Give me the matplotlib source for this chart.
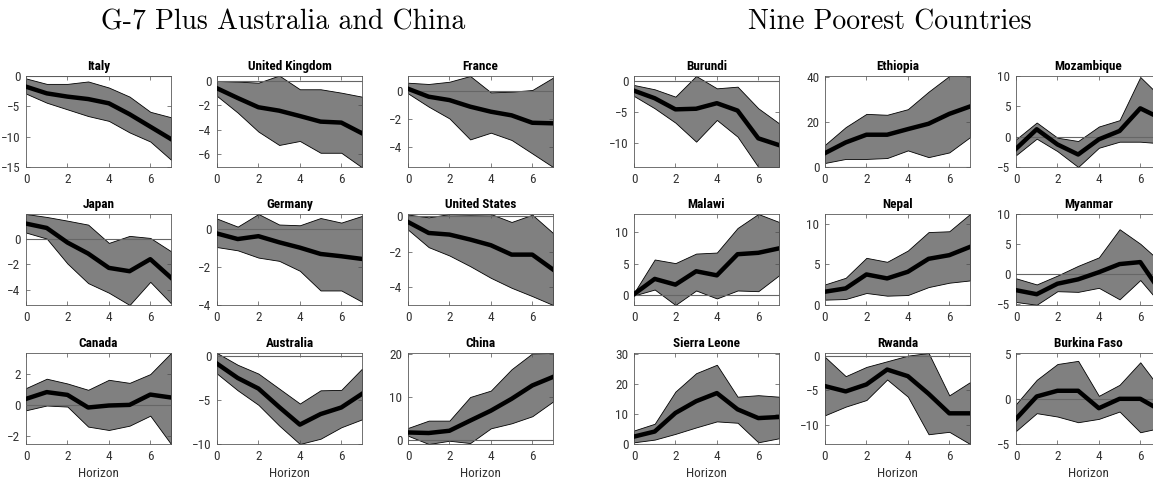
import matplotlib
matplotlib.use("Agg")
import matplotlib.pyplot as plt

# horizon (x axis) shared by every panel
horizon = [0, 1, 2, 3, 4, 5, 6, 7]

# ---- G-7 plus Australia and China ----
italy_mid = [-1.76, -2.86, -3.4, -3.8, -4.5, -6.3, -8.35, -10.4]
italy_hi = [-0.4, -1.3, -1.3, -0.9, -1.9, -3.4, -5.9, -6.8]
italy_lo = [-2.9, -4.4, -5.5, -6.6, -7.4, -9.3, -10.8, -13.8]

uk_mid = [-0.6, -1.4, -2.16, -2.44, -2.88, -3.34, -3.42, -4.3]
uk_hi = [0.0, -0.05, -0.14, 0.45, -0.68, -0.68, -0.96, -1.29]
uk_lo = [-1.23, -2.6, -4.16, -5.26, -4.93, -5.9, -5.9, -7.1]

france_mid = [0.14, -0.43, -0.67, -1.14, -1.5, -1.76, -2.29, -2.33]
france_hi = [0.57, 0.48, 0.64, 1.05, -0.12, -0.07, 0.05, 0.93]
france_lo = [-0.19, -1.14, -1.98, -3.48, -3.0, -3.52, -4.48, -5.45]

japan_mid = [1.17, 0.83, -0.31, -1.17, -2.29, -2.55, -1.61, -3.06]
japan_hi = [1.92, 1.69, 1.4, 1.09, -0.34, 0.21, 0.05, -0.99]
japan_lo = [0.47, 0.0, -1.95, -3.48, -4.23, -5.19, -3.38, -5.06]

germany_mid = [-0.26, -0.55, -0.4, -0.72, -1.0, -1.33, -1.45, -1.59]
germany_hi = [0.52, 0.1, 0.76, 0.21, 0.17, 0.55, 0.31, 0.66]
germany_lo = [-0.97, -1.14, -1.52, -1.69, -2.21, -3.24, -3.24, -3.83]

us_mid = [-0.32, -0.94, -1.03, -1.31, -1.63, -2.16, -2.16, -3.0]
us_hi = [0.1, -0.06, 0.13, 0.1, 0.13, -0.32, 0.09, -0.94]
us_lo = [-0.75, -1.74, -2.21, -2.81, -3.47, -4.03, -4.5, -5.0]

canada_mid = [0.39, 0.83, 0.65, -0.17, -0.04, 0.0, 0.67, 0.48]
canada_hi = [1.09, 1.7, 1.39, 0.98, 1.63, 1.43, 2.0, 3.37]
canada_lo = [-0.35, -0.04, -0.11, -1.41, -1.63, -1.35, -0.7, -2.54]

australia_mid = [-0.87, -2.5, -3.7, -5.8, -7.8, -6.6, -5.85, -4.3]
australia_hi = [0.34, -1.0, -2.0, -3.7, -5.4, -3.9, -3.85, -1.44]
australia_lo = [-2.0, -3.9, -5.55, -7.9, -10.0, -9.4, -8.1, -7.2]

china_mid = [1.7, 1.57, 2.1, 4.47, 6.8, 9.57, 12.7, 14.7]
china_hi = [2.75, 4.47, 4.47, 10.0, 11.5, 16.5, 20.2, 20.3]
china_lo = [0.94, -1.0, -0.24, -0.78, 2.67, 3.84, 5.5, 8.94]

# ---- Nine poorest countries ----
burundi_mid = [-1.57, -2.8, -4.6, -4.5, -3.6, -4.8, -9.3, -10.4]
burundi_hi = [-0.65, -1.35, -2.54, 0.81, -1.19, -0.92, -4.43, -6.86]
burundi_lo = [-2.43, -4.43, -6.76, -9.84, -6.32, -9.03, -13.95, -13.95]

ethiopia_mid = [6.2, 10.96, 14.4, 14.4, 16.9, 19.3, 23.7, 27.0]
ethiopia_hi = [9.9, 17.8, 23.7, 23.3, 25.8, 33.6, 40.6, 40.6]
ethiopia_lo = [1.8, 3.6, 3.6, 4.0, 7.4, 4.4, 6.5, 13.3]

mozambique_mid = [-2.0, 1.22, -1.28, -2.94, -0.44, 0.94, 4.67, 3.0]
mozambique_hi = [-0.44, 2.33, -0.17, -0.72, 1.67, 2.72, 9.83, 6.5]
mozambique_lo = [-3.06, -0.33, -2.39, -5.0, -1.83, -0.83, -0.83, -1.1]

malawi_mid = [0.2, 2.6, 1.7, 3.8, 3.16, 6.48, 6.7, 7.4]
malawi_hi = [0.41, 5.65, 5.08, 6.58, 6.74, 10.6, 12.8, 11.55]
malawi_lo = [0.0, 0.93, -1.5, 0.78, -0.47, 0.78, 0.67, 3.16]

nepal_mid = [1.64, 2.05, 3.77, 3.28, 4.1, 5.7, 6.15, 7.17]
nepal_hi = [2.54, 3.36, 5.82, 5.33, 6.72, 9.0, 9.1, 11.23]
nepal_lo = [0.66, 0.74, 1.48, 1.15, 1.23, 2.21, 2.75, 3.03]

myanmar_mid = [-2.64, -3.31, -1.57, -0.84, 0.34, 1.69, 2.02, -3.0]
myanmar_hi = [-0.67, -1.69, -0.22, 1.4, 2.8, 7.47, 5.06, 2.0]
myanmar_lo = [-4.6, -5.06, -2.81, -2.92, -2.25, -4.16, -0.96, -5.0]

sierra_mid = [2.46, 4.14, 10.3, 14.2, 16.9, 11.5, 8.6, 8.96]
sierra_hi = [4.48, 6.72, 17.4, 23.5, 26.3, 15.7, 16.2, 15.7]
sierra_lo = [0.56, 1.46, 3.36, 5.5, 7.5, 7.05, 0.56, 1.9]

rwanda_mid = [-4.38, -5.14, -4.14, -2.0, -2.95, -5.48, -8.29, -8.29]
rwanda_hi = [-0.19, -2.95, -1.62, -0.81, 0.0, 0.38, -5.71, -3.81]
rwanda_lo = [-8.57, -7.33, -6.38, -3.43, -5.9, -11.3, -10.95, -12.7]

burkina_mid = [-2.22, 0.26, 0.89, 0.89, -1.04, 0.0, 0.0, -1.3]
burkina_hi = [-0.59, 2.1, 3.85, 4.2, 0.33, 1.55, 4.04, 1.0]
burkina_lo = [-3.56, -1.59, -1.96, -2.59, -2.22, -1.41, -3.7, -3.2]

panels = [
    ("Italy", italy_lo, italy_mid, italy_hi, (-15, 0), [-15, -10, -5, 0]),
    ("United Kingdom", uk_lo, uk_mid, uk_hi, (-7.07, 0.41), [-6, -4, -2, 0]),
    ("France", france_lo, france_mid, france_hi, (-5.45, 1.05), [-4, -2, 0]),
    ("Burundi", burundi_lo, burundi_mid, burundi_hi, (-13.95, 0.81), [-10, -5, 0]),
    ("Ethiopia", ethiopia_lo, ethiopia_mid, ethiopia_hi, (0, 40.6), [0, 20, 40]),
    ("Mozambique", mozambique_lo, mozambique_mid, mozambique_hi, (-5, 10), [-5, 0, 5, 10]),
    ("Japan", japan_lo, japan_mid, japan_hi, (-5.19, 1.92), [-4, -2, 0]),
    ("Germany", germany_lo, germany_mid, germany_hi, (-3.97, 0.76), [-4, -2, 0]),
    ("United States", us_lo, us_mid, us_hi, (-5.0, 0.13), [-4, -2, 0]),
    ("Malawi", malawi_lo, malawi_mid, malawi_hi, (-1.5, 12.8), [0, 5, 10]),
    ("Nepal", nepal_lo, nepal_mid, nepal_hi, (0, 11.23), [0, 5, 10]),
    ("Myanmar", myanmar_lo, myanmar_mid, myanmar_hi, (-5.1, 10), [-5, 0, 5, 10]),
    ("Canada", canada_lo, canada_mid, canada_hi, (-2.54, 3.37), [-2, 0, 2]),
    ("Australia", australia_lo, australia_mid, australia_hi, (-10, 0.34), [-10, -5, 0]),
    ("China", china_lo, china_mid, china_hi, (-1.0, 20.3), [0, 10, 20]),
    ("Sierra Leone", sierra_lo, sierra_mid, sierra_hi, (0, 30.2), [0, 10, 20, 30]),
    ("Rwanda", rwanda_lo, rwanda_mid, rwanda_hi, (-12.7, 0.38), [-10, -5, 0]),
    ("Burkina Faso", burkina_lo, burkina_mid, burkina_hi, (-4.93, 5.07), [-5, 0, 5]),
]

plt.rcParams["font.family"] = ["Roboto Condensed", "DejaVu Sans"]

W, H = 1153, 479
fig = plt.figure(figsize=(W / 100, H / 100), dpi=100)

# panel grid in pixels (last column runs past the right edge, as in the original)
col_x = [26, 217, 408, 634, 825, 1016]
row_top = [76, 214, 353]
aw, ah = 145, 91

for i, (name, lo, mid, hi, ylim, yticks) in enumerate(panels):
    row, col = divmod(i, 6)
    ax = fig.add_axes([col_x[col] / W, 1 - (row_top[row] + ah) / H, aw / W, ah / H])
    ax.fill_between(horizon, lo, hi, facecolor="0.5", edgecolor="black", linewidth=0.6, zorder=1)
    ax.axhline(0, color="0.4", linewidth=0.8, zorder=2)
    ax.plot(horizon, mid, color="black", linewidth=3.2, zorder=3)
    ax.set_xlim(0, 7)
    ax.set_ylim(*ylim)
    ax.set_xticks([0, 2, 4, 6])
    ax.set_yticks(yticks)
    ax.tick_params(direction="in", top=True, right=True, length=3, width=0.5,
                   color="0.3", labelsize=9.5, labelcolor="0.2", pad=4)
    for s in ax.spines.values():
        s.set_color("0.35")
        s.set_linewidth(0.6)
    ax.set_title(name, fontsize=9.5, fontweight="bold", pad=4)
    if row == 2:
        ax.set_xlabel("Horizon", fontsize=9.5, color="0.2", labelpad=3)

fig.text(283 / W, 1 - 22 / H, "G-7 Plus Australia and China", family="cmr10",
         fontsize=20, ha="center", va="center")
fig.text(890 / W, 1 - 22 / H, "Nine Poorest Countries", family="cmr10",
         fontsize=20, ha="center", va="center")

fig.savefig("out.png", dpi=100)
